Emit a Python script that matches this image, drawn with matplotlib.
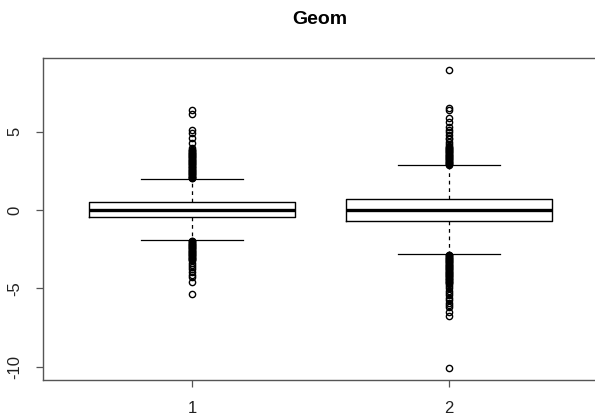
import matplotlib
matplotlib.use("Agg")
import matplotlib.pyplot as plt

plt.rcParams["font.family"] = ["Liberation Sans", "DejaVu Sans"]

# box statistics
groups = ["1", "2"]
q1 = [-0.47, -0.72]
med = [0.0, 0.0]
q3 = [0.53, 0.70]
whis_lo = [-1.94, -2.82]
whis_hi = [1.99, 2.84]

# outliers, group 1
out1_up = [2.01, 2.04, 2.09, 2.13, 2.18, 2.22, 2.27, 2.31, 2.36, 2.4, 2.45, 2.49,
           2.54, 2.58, 2.63, 2.67, 2.72, 2.76, 2.81, 2.85, 2.9, 2.94, 2.99, 3.03,
           3.08, 3.12, 3.17, 3.21, 3.26, 3.3, 3.35, 3.39, 3.44, 3.48, 3.53, 3.57,
           3.62, 3.66, 3.71, 3.75, 3.8, 3.85,
           3.97, 4.3, 4.6, 4.9, 5.13, 6.1, 6.35]
out1_low = [-1.96, -2.0, -2.05, -2.09, -2.14, -2.18, -2.23, -2.27, -2.32, -2.36,
            -2.41, -2.45, -2.5, -2.54, -2.59, -2.63, -2.68, -2.72, -2.77, -2.81,
            -2.86, -2.9, -2.95, -2.99, -3.04, -3.08, -3.13, -3.17, -3.22,
            -3.35, -3.5, -3.62, -3.78, -3.95, -4.12, -4.3, -4.6, -5.34]

# outliers, group 2
out2_up = [2.86, 2.9, 2.95, 2.99, 3.04, 3.08, 3.13, 3.17, 3.22, 3.26, 3.31, 3.35,
           3.4, 3.44, 3.49, 3.53, 3.58, 3.62, 3.67, 3.71, 3.76, 3.8, 3.85, 3.89,
           3.94, 3.98, 4.03, 4.07,
           4.2, 4.35, 4.5, 4.62, 4.8, 4.95, 5.1, 5.3, 5.6, 5.88, 6.4, 6.52, 8.93]
out2_low = [-2.85, -2.89, -2.94, -2.98, -3.03, -3.07, -3.12, -3.16, -3.21, -3.25,
            -3.3, -3.34, -3.39, -3.43, -3.48, -3.52, -3.57, -3.61, -3.66, -3.7,
            -3.75, -3.79, -3.84, -3.88, -3.93, -3.97, -4.02, -4.06, -4.11, -4.15,
            -4.2, -4.24, -4.29, -4.33, -4.38, -4.42, -4.47, -4.51, -4.56, -4.6,
            -4.65, -4.7,
            -4.85, -5.0, -5.15, -5.3, -5.45, -5.6, -5.75, -5.9, -6.05, -6.2,
            -6.5, -6.73, -10.08]

outliers = [out1_up + out1_low, out2_up + out2_low]

stats = []
for i in range(len(groups)):
    stats.append({
        "label": groups[i],
        "q1": q1[i], "med": med[i], "q3": q3[i],
        "whislo": whis_lo[i], "whishi": whis_hi[i],
        "fliers": outliers[i],
    })

fig = plt.figure(figsize=(5.95, 4.16), dpi=100)
ax = fig.add_axes([43 / 595, 36 / 416, 555 / 595, 322 / 416])

ax.bxp(stats, positions=[1, 2], widths=0.8,
       boxprops=dict(color="black", linewidth=1.0),
       medianprops=dict(color="black", linewidth=2.4),
       whiskerprops=dict(color="black", linewidth=0.9, linestyle=(0, (3, 3))),
       capprops=dict(color="black", linewidth=0.9),
       capwidths=0.4,
       flierprops=dict(marker="o", markerfacecolor="none", markeredgecolor="black",
                       markersize=4.5, markeredgewidth=1.0))

ax.set_xlim(0.42, 2.58)
ax.set_ylim(-10.84, 9.69)
ax.set_yticks([-10, -5, 0, 5])
ax.set_yticklabels(["-10", "-5", "0", "5"], rotation=90, va="center")
ax.set_xticks([1, 2])
ax.set_xticklabels(groups)

for s in ax.spines.values():
    s.set_color("#555555")
    s.set_linewidth(1.0)
ax.tick_params(length=5, width=0.9, color="#555555", labelsize=12, labelcolor="#222222")
ax.tick_params(axis="x", pad=10)
ax.tick_params(axis="y", pad=10)

fig.text(320 / 595, 1 - 20 / 416, "Geom", ha="center", va="center",
         fontsize=14, fontweight="bold")

fig.savefig("out.png", dpi=100)
